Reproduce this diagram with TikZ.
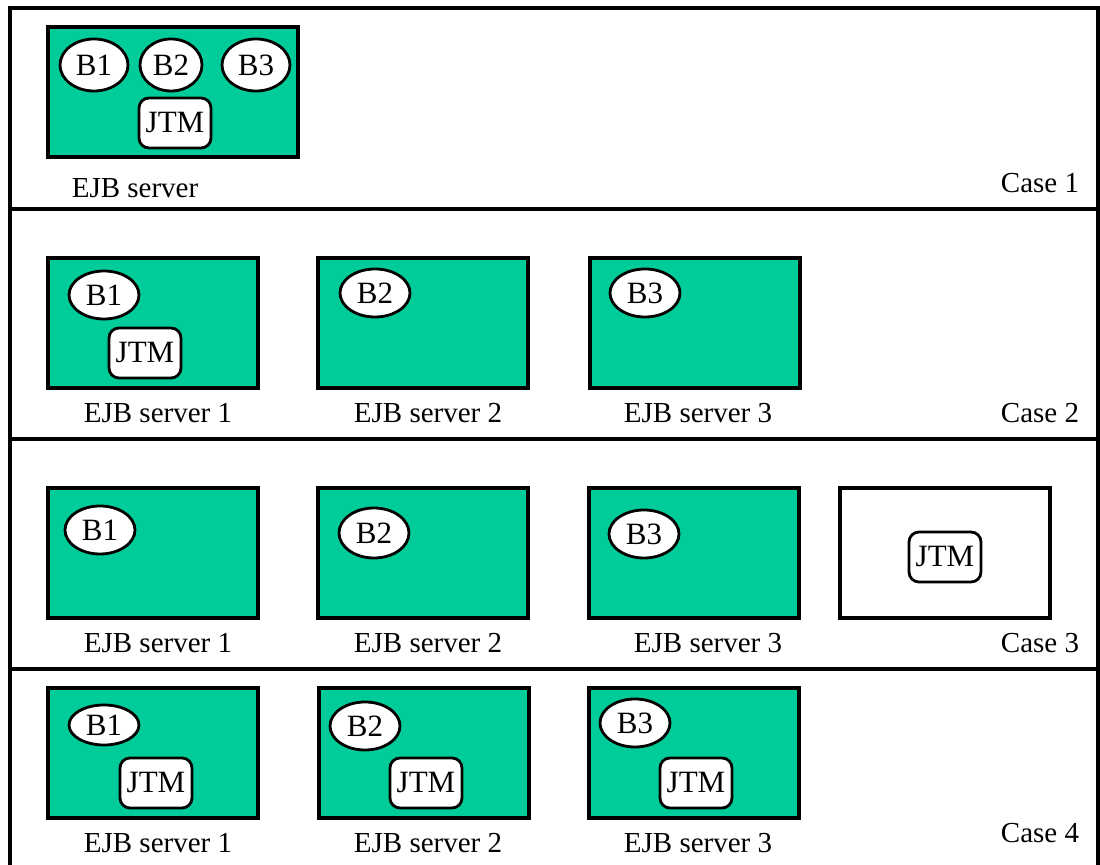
\documentclass[tikz,border=0pt]{standalone}
\usepackage{fontspec}
\setmainfont{Liberation Serif}
\usetikzlibrary{shapes.geometric, positioning}

\definecolor{ejbgreen}{HTML}{00CC99}

\begin{document}
\begin{tikzpicture}[x=0.5pt, y=-0.5pt,
    every node/.style={font=\fontsize{14.5}{17}\selectfont},
    frame/.style={line width=1.6pt},
    server/.style={draw, line width=1.7pt, fill=ejbgreen, minimum width=105pt, minimum height=65pt, inner sep=0pt},
    bigserver/.style={server, minimum width=125pt},
    plainserver/.style={server, fill=white},
    bean/.style={draw, ellipse, line width=1.4pt, fill=white, minimum width=35pt, minimum height=24pt, inner sep=0pt, font=\fontsize{15.5}{17}\selectfont},
    jtm/.style={draw, rounded corners=5pt, line width=1.4pt, fill=white, minimum width=36pt, minimum height=25pt, inner sep=0pt, font=\fontsize{15.5}{17}\selectfont},
    caselabel/.style={inner sep=0pt}]
      \useasboundingbox (0,0) rectangle (1100,865);

      % frame and rows
      \draw[frame] (10,865) -- (10,8) -- (1098,8) -- (1098,865);
      \draw[frame] (10,209) -- (1098,209);
      \draw[frame] (10,439) -- (1098,439);
      \draw[frame] (10,669) -- (1098,669);

      % Case 1
      \node[bigserver] (s1) at (173,92) {};
      \node[bean, minimum width=34pt, minimum height=26pt] (c1b1) at (94,65) {B1};
      \node[bean, minimum width=31pt, minimum height=26pt] (c1b2) at (171,65) {B2};
      \node[bean, minimum width=34pt, minimum height=26pt] (c1b3) at (256,65) {B3};
      \node[jtm] (c1jtm) at (175,123) {JTM};
      \node[caselabel] (l1) at (135,188) {EJB server};
      \node[caselabel] (case1) at (1040,183) {Case 1};

      % Case 2
      \node[server] (s21) at (153,323) {};
      \node[server] (s22) at (423,323) {};
      \node[server] (s23) at (695,323) {};
      \node[bean] (c2b1) at (104,295) {B1};
      \node[bean] (c2b2) at (375,293) {B2};
      \node[bean] (c2b3) at (645,293) {B3};
      \node[jtm] (c2jtm) at (145,353) {JTM};
      \node[caselabel] (l21) at (158,413) {EJB server 1};
      \node[caselabel] (l22) at (428,413) {EJB server 2};
      \node[caselabel] (l23) at (698,413) {EJB server 3};
      \node[caselabel] (case2) at (1040,413) {Case 2};

      % Case 3
      \node[server] (s31) at (153,553) {};
      \node[server] (s32) at (423,553) {};
      \node[server] (s33) at (694,553) {};
      \node[plainserver] (s34) at (945,553) {};
      \node[bean] (c3b1) at (100,530) {B1};
      \node[bean, minimum height=25pt] (c3b2) at (374,533) {B2};
      \node[bean] (c3b3) at (644,534) {B3};
      \node[jtm] (c3jtm) at (945,557) {JTM};
      \node[caselabel] (l31) at (158,643) {EJB server 1};
      \node[caselabel] (l32) at (428,643) {EJB server 2};
      \node[caselabel] (l33) at (708,643) {EJB server 3};
      \node[caselabel] (case3) at (1040,643) {Case 3};

      % Case 4
      \node[server] (s41) at (153,753) {};
      \node[server] (s42) at (424,753) {};
      \node[server] (s43) at (694,753) {};
      \node[bean, minimum height=20pt] (c4b1) at (104,725) {B1};
      \node[bean] (c4b2) at (365,726) {B2};
      \node[bean] (c4b3) at (635,723) {B3};
      \node[jtm] (c4jtm1) at (156,783) {JTM};
      \node[jtm] (c4jtm2) at (426,783) {JTM};
      \node[jtm] (c4jtm3) at (696,783) {JTM};
      \node[caselabel] (l41) at (158,843) {EJB server 1};
      \node[caselabel] (l42) at (428,843) {EJB server 2};
      \node[caselabel] (l43) at (698,843) {EJB server 3};
      \node[caselabel] (case4) at (1040,833) {Case 4};
\end{tikzpicture}
\end{document}
